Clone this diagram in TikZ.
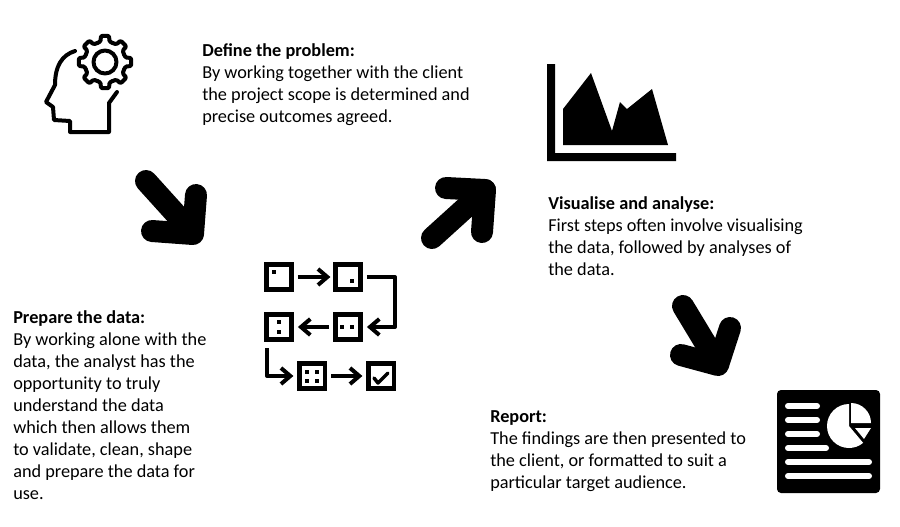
\documentclass[tikz,border=0pt]{standalone}
\usepackage{fontspec}
\setmainfont{Carlito}
\usetikzlibrary{arrows.meta}
\begin{document}
\begin{tikzpicture}[
    x=0.75pt, y=-0.75pt,
    node distance=51.75pt,
    text_box/.style={anchor=north west, inner sep=0pt, align=left, font=\fontsize{13.7pt}{16.5pt}\selectfont},
    flow_box/.style={rectangle, draw=black, line width=3.4pt, fill=white, minimum size=19pt, inner sep=0pt},
    flow_arrow/.style={-{Straight Barb[length=7pt, width=12pt, line width=3pt]}, line width=3pt, black, line join=round},
    big_arrow/.style={line width=16.5pt, line cap=round, line join=round, black},
    icon_line/.style={line width=3pt, line cap=round, line join=round, black},
    report_line/.style={line width=4.5pt, line cap=round, white}
]
    \useasboundingbox (0,0) rectangle (900,526);

    % Text
    \node[text_box] (problem) at (202,43) {\textbf{Define the problem:}\\By working together with the client\\the project scope is determined and\\precise outcomes agreed.};
    \node[text_box] (visualise) at (548,196) {\textbf{Visualise and analyse:}\\First steps often involve visualising\\the data, followed by analyses of\\the data.};
    \node[text_box] (prepare) at (13,310) {\textbf{Prepare the data:}\\By working alone with the\\data, the analyst has the\\opportunity to truly\\understand the data\\which then allows them\\to validate, clean, shape\\and prepare the data for\\use.};
    \node[text_box] (report) at (490,410) {\textbf{Report:}\\The findings are then presented to\\the client, or formatted to suit a\\particular target audience.};

    % Big arrows
    \draw[big_arrow] (146,181) -- (193,233);
    \draw[big_arrow] (152,231) -- (193,234) -- (196,195);
    \draw[big_arrow] (432,238) -- (485,190);
    \draw[big_arrow] (446,188) -- (485,190) -- (482,232);
    \draw[big_arrow] (683,306) -- (718,364);
    \draw[big_arrow] (681,355) -- (718,365) -- (730,328);

    % Head and gear
    \draw[icon_line] (75,51) .. controls (62,55) and (55,66) .. (55,85) -- (46,102) -- (53,107) -- (54,120) -- (70,121) -- (70,132) -- (109,132) -- (109,103) -- (117,92);
    \draw[icon_line] (105,62) circle (11.5);
    \foreach \a in {0,45,...,315} {
        \draw[icon_line, shift={(105,62)}, rounded corners=1pt] (\a-22.5:20.5) -- (\a-12:21) -- (\a-9:26.5) -- (\a+9:26.5) -- (\a+12:21) -- (\a+22.5:20.5);
    }

    % Chart
    \fill[black] (547,64) -- (555,64) -- (555,153) -- (676,153) -- (676,161) -- (547,161) -- cycle;
    \fill[black] (563,109) -- (591,73) -- (612,131) -- (620,102) -- (627,109) -- (652,89) -- (668,145) -- (563,145) -- cycle;

    % Flow boxes
    \node[flow_box] (box1) at (279,277) {};
    \node[flow_box, right of=box1] (box2) {};
    \node[flow_box, below of=box2, yshift=14.25pt] (box3) {};
    \node[flow_box, left of=box3] (box4) {};
    \node[flow_box, below of=box4, yshift=15pt, xshift=25pt] (box5) {};
    \node[flow_box, right of=box5] (box6) {};
    \foreach \x/\y in {274/272, 352/281, 342/327, 352/327, 279/322, 279/332, 307/372, 317/372, 307/381, 317/381} {
        \fill[black] (\x-2,\y-2) rectangle ++(4,4);
    }
    \draw[icon_line, line width=2.6pt] (374,378) -- (378,383) -- (388,373);

    % Flow arrows
    \coordinate (turn1) at (395,277);
    \coordinate (turn2) at (395,327);
    \coordinate (drop1) at (267,348);
    \coordinate (turn3) at (267,376);
    \draw[flow_arrow, shorten <=3pt, shorten >=2pt] (box1) -- (box2);
    \draw[flow_arrow, shorten <=3pt, shorten >=3pt] (box2.east) -- (turn1) -- (turn2) -- (box3.east);
    \draw[flow_arrow, shorten <=3pt, shorten >=3pt] (box3) -- (box4);
    \draw[flow_arrow, shorten >=3pt] (drop1) -- (turn3) -- (box5.west);
    \draw[flow_arrow, shorten <=3pt, shorten >=3pt] (box5) -- (box6);

    % Report icon
    \fill[black, rounded corners=3pt] (777,390) rectangle (880,493);
    \foreach \y in {406,420,434} {
        \draw[report_line] (788,\y) -- (817,\y);
    }
    \draw[report_line] (788,448) -- (826,448);
    \draw[report_line] (788,462) -- (869,462);
    \draw[report_line] (788,476) -- (869,476);
    \fill[white] (849,426) -- (849,404) arc[start angle=270, end angle=50, radius=22] -- cycle;
    \fill[white] (851,423) -- (851,403) arc[start angle=270, end angle=360, radius=20] -- cycle;
    \fill[white] (855,428) -- (871,428) -- (864,439) -- cycle;
\end{tikzpicture}
\end{document}
